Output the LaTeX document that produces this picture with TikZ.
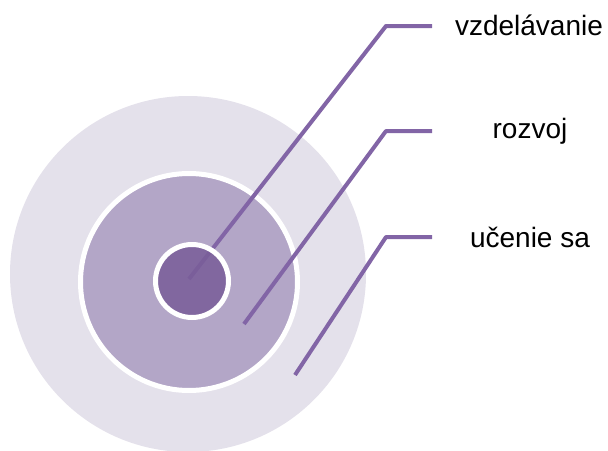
\documentclass[tikz,border=0pt]{standalone}
\usepackage{fontspec}
\setmainfont{Liberation Sans}
\definecolor{ringouter}{RGB}{228,225,235}
\definecolor{ringmid}{RGB}{179,166,199}
\definecolor{ringcore}{RGB}{121,93,153}
\definecolor{leader}{RGB}{130,101,166}
\tikzset{
  disc/.style={circle, inner sep=0pt, outer sep=0pt},
  leaderline/.style={draw=leader, line width=4pt, line join=bevel},
  tag/.style={font=\fontsize{28}{34}\selectfont, text=black, inner sep=0pt, anchor=center}
}
\begin{document}
\begin{tikzpicture}[x=1pt, y=-1pt]
  \useasboundingbox (0,0) rectangle (608,450);
  \clip (0,0) rectangle (608,450);
  % concentric discs
  \node[disc, fill=ringouter, minimum size=356pt] (outer) at (188,274) {};
  \node[disc, fill=ringmid, draw=white, line width=5pt, minimum size=217pt] (mid) at (189,282) {};
  % leader line anchor points
  \coordinate (s1) at (189,279);
  \coordinate (b1) at (386,26);
  \coordinate (e1) at (432,26);
  \coordinate (s2) at (244,324);
  \coordinate (b2) at (386,131);
  \coordinate (e2) at (432,131);
  \coordinate (s3) at (295,375);
  \coordinate (b3) at (386,237);
  \coordinate (e3) at (432,237);
  % labels
  \node[tag] (l1) at (529,25) {vzdelávanie};
  \node[tag] (l2) at (530,131) {rozvoj};
  \node[tag] (l3) at (530,237) {učenie sa};
  % leaders
  \draw[leaderline] (s2) -- (b2) -- (e2);
  \draw[leaderline] (s3) -- (b3) -- (e3);
  \draw[leaderline] (s1) -- (b1) -- (e1);
  % core disc, slightly translucent over the first leader
  \node[disc, fill=ringcore, fill opacity=0.85, draw=white, line width=5pt, minimum size=73pt] (core) at (192,281) {};
\end{tikzpicture}
\end{document}
